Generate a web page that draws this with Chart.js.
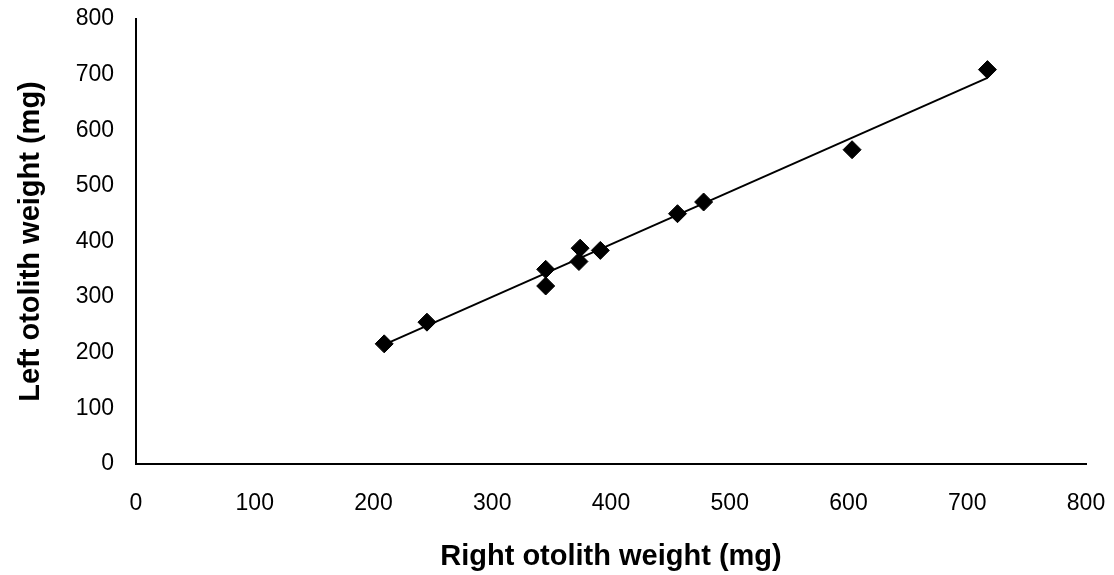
<!DOCTYPE html>
<html>
<head>
<meta charset="utf-8">
<script src="https://cdn.jsdelivr.net/npm/chart.js@4/dist/chart.umd.min.js"></script>
<style>
  html, body { margin: 0; padding: 0; background: #fff; }
  #wrap { width: 1114px; height: 575px; }
</style>
</head>
<body>
<div id="wrap"><canvas id="c" width="1114" height="575"></canvas></div>
<script>
// Otolith weights (mg), one entry per fish
const rightWeight = [209, 245, 345, 345, 373, 374, 391, 456, 478, 603, 717];
const leftWeight  = [216, 255, 320, 350, 364, 388, 384, 450, 471, 565, 709];

// Axis ranges and tick spacing
const xTicks = [0, 100, 200, 300, 400, 500, 600, 700, 800];
const yTicks = [0, 100, 200, 300, 400, 500, 600, 700, 800];

const xTitle = 'Right otolith weight (mg)';
const yTitle = 'Left otolith weight (mg)';

// Linear least-squares trend line over the observed range
function linearFit(xs, ys) {
  const n = xs.length;
  const mx = xs.reduce((a, b) => a + b, 0) / n;
  const my = ys.reduce((a, b) => a + b, 0) / n;
  let sxy = 0, sxx = 0;
  for (let i = 0; i < n; i++) {
    sxy += (xs[i] - mx) * (ys[i] - my);
    sxx += (xs[i] - mx) * (xs[i] - mx);
  }
  const slope = sxy / sxx;
  return { slope, intercept: my - slope * mx };
}
const fit = linearFit(rightWeight, leftWeight);
const xMin = Math.min(...rightWeight), xMax = Math.max(...rightWeight);
const trend = [xMin, xMax].map(x => ({ x, y: fit.intercept + fit.slope * x }));

const points = rightWeight.map((x, i) => ({ x, y: leftWeight[i] }));

const tickFont = { family: '"Liberation Sans", Arial, sans-serif', size: 23 };
const titleFont = { family: '"Liberation Sans", Arial, sans-serif', size: 29, weight: 'bold' };

new Chart(document.getElementById('c'), {
  type: 'scatter',
  data: {
    datasets: [
      {
        label: 'Otoliths',
        data: points,
        pointStyle: 'rectRot',
        pointRadius: 9,
        pointBorderWidth: 1,
        backgroundColor: '#000',
        borderColor: '#000',
        showLine: false
      },
      {
        label: 'Linear fit',
        data: trend,
        showLine: true,
        borderColor: '#000',
        borderWidth: 2,
        pointRadius: 0,
        fill: false
      }
    ]
  },
  options: {
    responsive: false,
    animation: false,
    layout: { padding: { top: 19, right: 28, left: 0, bottom: 0 } },
    plugins: { legend: { display: false }, tooltip: { enabled: false } },
    scales: {
      x: {
        type: 'linear',
        min: xTicks[0],
        max: xTicks[xTicks.length - 1],
        afterFit: s => { s.height = 111; s.paddingLeft = 0; s.paddingRight = 0; },
        afterBuildTicks: s => { s.ticks = xTicks.map(v => ({ value: v })); },
        grid: { display: false, drawTicks: false },
        border: { display: true, color: '#000', width: 2 },
        ticks: { color: '#000', font: tickFont, padding: 26, maxRotation: 0 },
        title: { display: true, text: xTitle, color: '#000', font: titleFont, padding: { top: 0, bottom: 1 } }
      },
      y: {
        type: 'linear',
        min: yTicks[0],
        max: yTicks[yTicks.length - 1],
        afterFit: s => { s.width = 136; s.paddingTop = 0; s.paddingBottom = 0; },
        afterBuildTicks: s => { s.ticks = yTicks.map(v => ({ value: v })); },
        grid: { display: false, drawTicks: false },
        border: { display: true, color: '#000', width: 2 },
        ticks: { color: '#000', font: tickFont, padding: 22 },
        title: { display: true, text: yTitle, color: '#000', font: titleFont, padding: { top: 14, bottom: 0 } }
      }
    }
  }
});
</script>
</body>
</html>
